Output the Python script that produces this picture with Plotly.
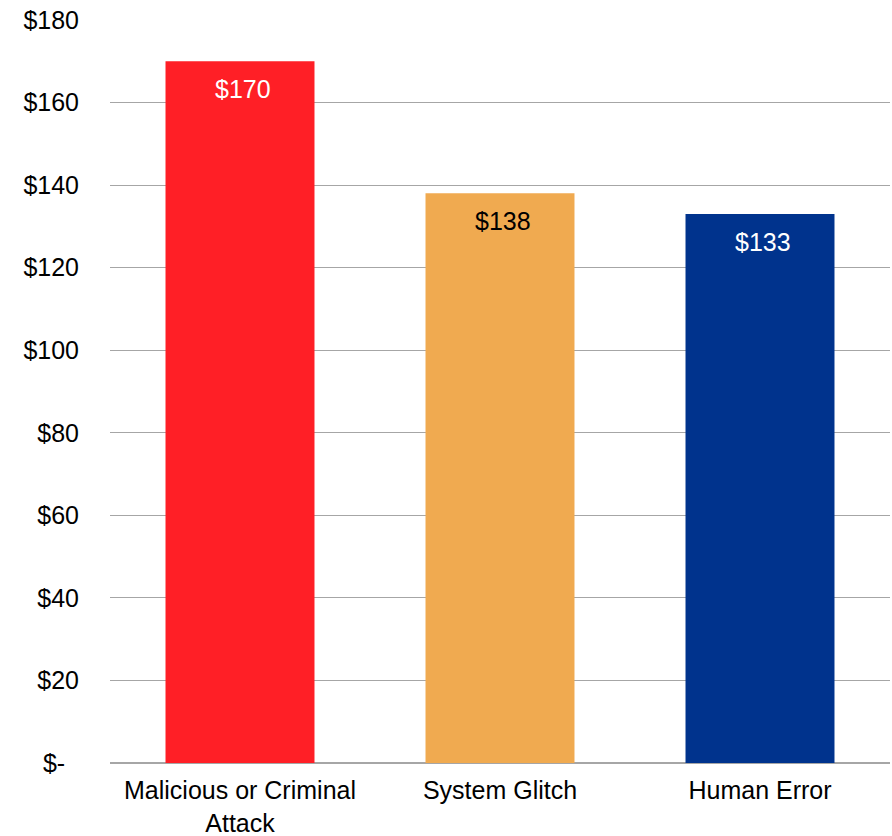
import plotly.graph_objects as go

categories = ["Malicious or Criminal<br>Attack", "System Glitch", "Human Error"]
values = [170, 138, 133]
bar_colors = ["#FF1F26", "#F0AA50", "#00338D"]
label_colors = ["#FFFFFF", "#000000", "#FFFFFF"]
tick_vals = [0, 20, 40, 60, 80, 100, 120, 140, 160, 180]
tick_text = ["$-\u00a0\u00a0"] + [f"${v}" for v in tick_vals[1:]]

FONT = "Liberation Sans, Arial, sans-serif"

fig = go.Figure()
fig.add_trace(go.Bar(
    x=categories, y=values,
    marker=dict(color=bar_colors, line=dict(width=0)),
    hoverinfo="skip",
))

for c, v, col in zip(categories, values, label_colors):
    fig.add_annotation(
        x=c, y=v, text=f"${v}", showarrow=False,
        yanchor="middle", yshift=-28, xshift=3,
        font=dict(family=FONT, size=25, color=col),
    )

fig.update_layout(
    width=892, height=836,
    margin=dict(l=110, r=2, t=20, b=73),
    paper_bgcolor="white", plot_bgcolor="white",
    bargap=0.427,
    showlegend=False,
    font=dict(family=FONT, size=25, color="#000000"),
    xaxis=dict(
        showgrid=False, showline=False, zeroline=False,
        ticks="", tickfont=dict(family=FONT, size=25, color="#000000"),
        ticklabelstandoff=10, automargin=False,
    ),
    yaxis=dict(
        range=[0, 180], tickvals=tick_vals, ticktext=tick_text,
        showgrid=True, gridcolor="#A6A6A6", gridwidth=1.3,
        zeroline=True, zerolinecolor="#A6A6A6", zerolinewidth=1.5,
        showline=False, ticks="",
        tickfont=dict(family=FONT, size=25, color="#000000"),
        ticklabelstandoff=30, automargin=False,
    ),
)

fig.write_html("out.html")
